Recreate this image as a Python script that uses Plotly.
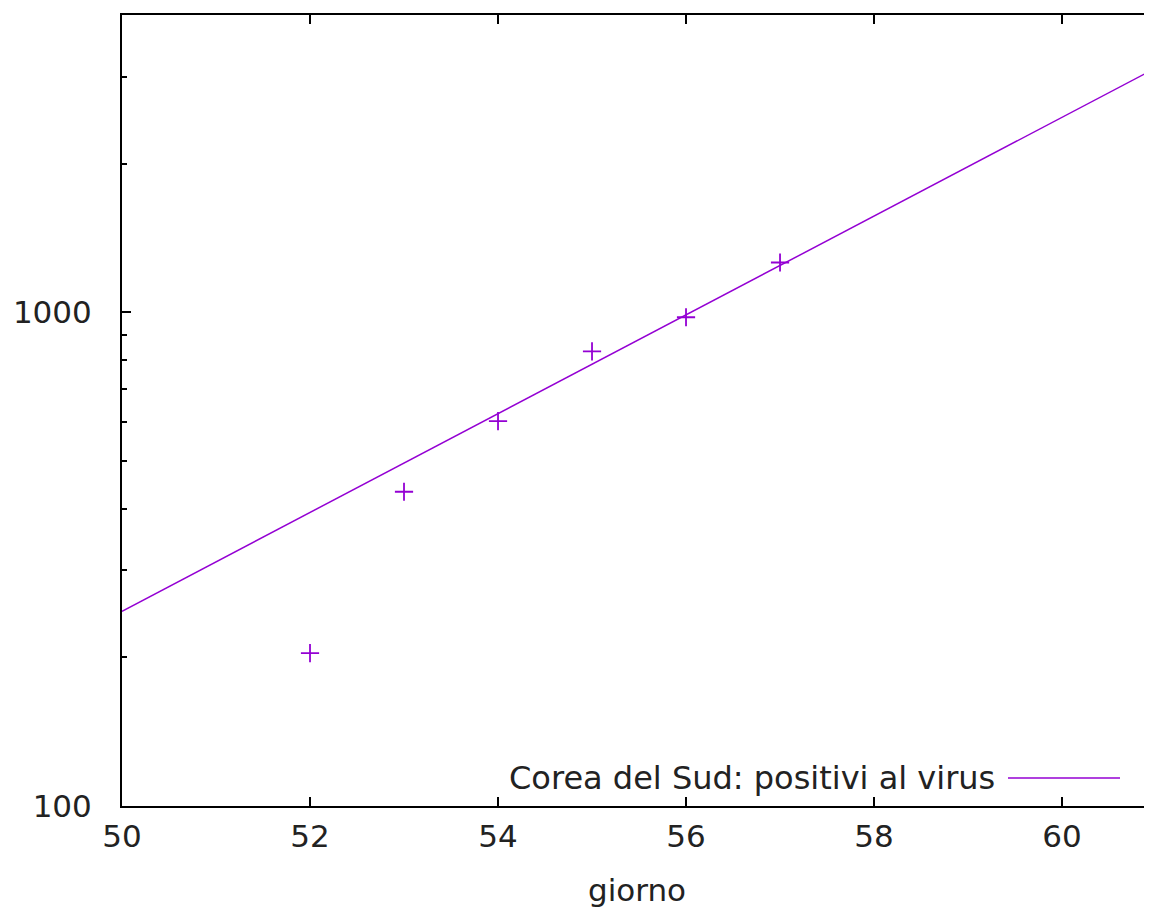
import plotly.graph_objects as go

# data
giorni = [52, 53, 54, 55, 56, 57]
positivi = [204, 433, 602, 833, 977, 1261]
fit_x = [50, 55, 61]
fit_y = [248, 784, 3125]
x_ticks = [50, 52, 54, 56, 58, 60]
y_major = [100, 1000]
y_minor = [200, 300, 400, 500, 600, 700, 800, 900, 2000, 3000, 4000]

COL = "#9400D3"
FONT = "DejaVu Sans"
TXT = "#222222"

fig = go.Figure()
fig.add_trace(go.Scatter(x=fit_x, y=fit_y, mode="lines",
                         line=dict(color=COL, width=1.5), showlegend=False,
                         hoverinfo="skip"))
fig.add_trace(go.Scatter(x=giorni, y=positivi, mode="markers",
                         marker=dict(symbol="cross-thin", size=13,
                                     line=dict(color=COL, width=1.8)),
                         showlegend=False))

fig.update_layout(
    width=1144, height=905,
    margin=dict(l=114, r=0, t=7, b=107),
    paper_bgcolor="white", plot_bgcolor="white",
    font=dict(family=FONT, size=31, color=TXT),
    showlegend=False,
)
fig.update_xaxes(range=[50, 60.957], tickvals=x_ticks,
                 ticktext=[str(v) for v in x_ticks],
                 ticks="inside", ticklen=9, tickwidth=1.5, tickcolor="black",
                 showline=True, linecolor="black", linewidth=2,
                 mirror="ticks", showgrid=False, zeroline=False,
                 ticklabelstandoff=2,
                 title=dict(text="giorno", standoff=26,
                            font=dict(family=FONT, size=31, color=TXT)))
fig.update_yaxes(type="log", range=[2, 3.602], tickvals=y_major,
                 ticktext=["100", "1000"],
                 ticks="inside", ticklen=9, tickwidth=1.5, tickcolor="black",
                 showline=True, linecolor="black", linewidth=2,
                 mirror=False, showgrid=False, zeroline=False,
                 ticklabelstandoff=22,
                 minor=dict(tickmode="array", tickvals=y_minor, ticks="inside",
                            ticklen=5, tickwidth=1.5, tickcolor="black",
                            showgrid=False))

fig.add_annotation(xref="paper", yref="paper", x=(997 - 122) / 1030,
                   y=(806 - 778) / 791, xanchor="right", yanchor="middle",
                   text="Corea del Sud: positivi al virus", showarrow=False,
                   font=dict(family=FONT, size=32, color=TXT))
fig.add_shape(type="line", xref="paper", yref="paper",
              x0=(1008 - 122) / 1030, x1=(1120 - 122) / 1030,
              y0=(806 - 778) / 791, y1=(806 - 778) / 791,
              line=dict(color=COL, width=1.5))

fig.write_html("out.html")
